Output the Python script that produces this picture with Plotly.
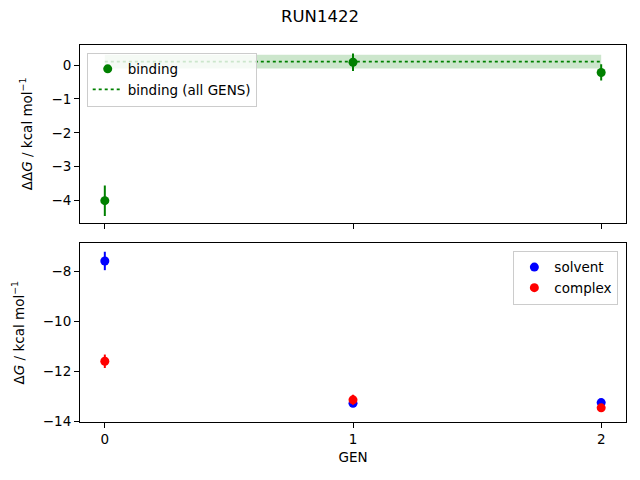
import plotly.graph_objects as go
from plotly.subplots import make_subplots

gens = [0, 1, 2]
binding = [-4.0, 0.08, -0.22]
binding_err = [0.45, 0.26, 0.24]
binding_all = 0.1
binding_all_err = 0.2
solvent = [-7.57, -13.29, -13.26]
solvent_err = [0.37, 0.08, 0.08]
complex_ = [-11.6, -13.15, -13.47]
complex_err = [0.27, 0.2, 0.15]
title = "RUN1422"

GREEN = "#008000"
BLUE = "#0000ff"
RED = "#ff0000"
FONT = "DejaVu Sans"

# the page body adds an 8px margin, so the figure is drawn 8px smaller
W, H = 632, 472

fig = make_subplots(rows=2, cols=1, shared_xaxes=True, vertical_spacing=0.0546)

# band for all-gens estimate
xs = [gens[0], gens[-1], gens[-1], gens[0]]
ys = [binding_all - binding_all_err, binding_all - binding_all_err,
      binding_all + binding_all_err, binding_all + binding_all_err]
fig.add_trace(go.Scatter(x=xs, y=ys, fill="toself", fillcolor="rgba(0,128,0,0.2)",
                         line=dict(width=0), mode="lines", showlegend=False,
                         hoverinfo="skip"), row=1, col=1)
fig.add_trace(go.Scatter(x=gens, y=binding, mode="markers", name="binding",
                         marker=dict(color=GREEN, size=9),
                         error_y=dict(type="data", array=binding_err, color=GREEN,
                                      thickness=2, width=0),
                         legend="legend"), row=1, col=1)
fig.add_trace(go.Scatter(x=[gens[0], gens[-1]], y=[binding_all, binding_all],
                         mode="lines", name="binding (all GENS)",
                         line=dict(color=GREEN, dash="dot", width=1.8),
                         legend="legend"), row=1, col=1)

fig.add_trace(go.Scatter(x=gens, y=solvent, mode="markers", name="solvent",
                         marker=dict(color=BLUE, size=9),
                         error_y=dict(type="data", array=solvent_err, color=BLUE,
                                      thickness=2, width=0),
                         legend="legend2"), row=2, col=1)
fig.add_trace(go.Scatter(x=gens, y=complex_, mode="markers", name="complex",
                         marker=dict(color=RED, size=9),
                         error_y=dict(type="data", array=complex_err, color=RED,
                                      thickness=2, width=0),
                         legend="legend2"), row=2, col=1)

axis_common = dict(showline=True, mirror=True, linecolor="black", linewidth=1,
                   ticks="outside", ticklen=5, tickcolor="black", showgrid=False,
                   zeroline=False, automargin=False,
                   tickfont=dict(size=13.5, color="black", family=FONT))

fig.update_xaxes(**axis_common, range=[-0.1, 2.1], tickvals=gens)
fig.update_xaxes(showticklabels=False, row=1, col=1)
fig.update_xaxes(title=dict(text="GEN", font=dict(size=13.5, color="black", family=FONT),
                            standoff=6), row=2, col=1)
fig.update_yaxes(**axis_common)
fig.update_yaxes(range=[-4.65, 0.59], tickvals=[0, -1, -2, -3, -4],
                 title=dict(text="ΔΔ<i>G</i> / kcal mol<sup>−1</sup>",
                            font=dict(size=13.5, color="black", family=FONT)),
                 row=1, col=1)
fig.update_yaxes(range=[-14.04, -6.86], tickvals=[-8, -10, -12, -14],
                 title=dict(text="Δ<i>G</i> / kcal mol<sup>−1</sup>",
                            font=dict(size=13.5, color="black", family=FONT)),
                 row=2, col=1)
fig.update_layout(yaxis=dict(domain=[0.5286, 1.0]), yaxis2=dict(domain=[0.0, 0.474]))

legend_style = dict(bgcolor="rgba(255,255,255,0.8)", bordercolor="#cccccc", borderwidth=1,
                    font=dict(size=13.5, color="black", family=FONT))
fig.update_layout(
    width=W, height=H,
    margin=dict(l=72, r=14, t=37, b=58, autoexpand=False),
    paper_bgcolor="white", plot_bgcolor="white",
    font=dict(family=FONT, color="black"),
    title=dict(text=title, x=(320 - 8) / W, xref="container", xanchor="center",
               y=1 - (16 - 8) / H, yref="container", yanchor="middle",
               font=dict(size=16.5, color="black", family=FONT)),
    legend=dict(x=0.0123, y=0.98, xanchor="left", yanchor="top", **legend_style),
    legend2=dict(x=0.986, y=0.454, xanchor="right", yanchor="top", **legend_style),
)

fig.write_html("out.html")
